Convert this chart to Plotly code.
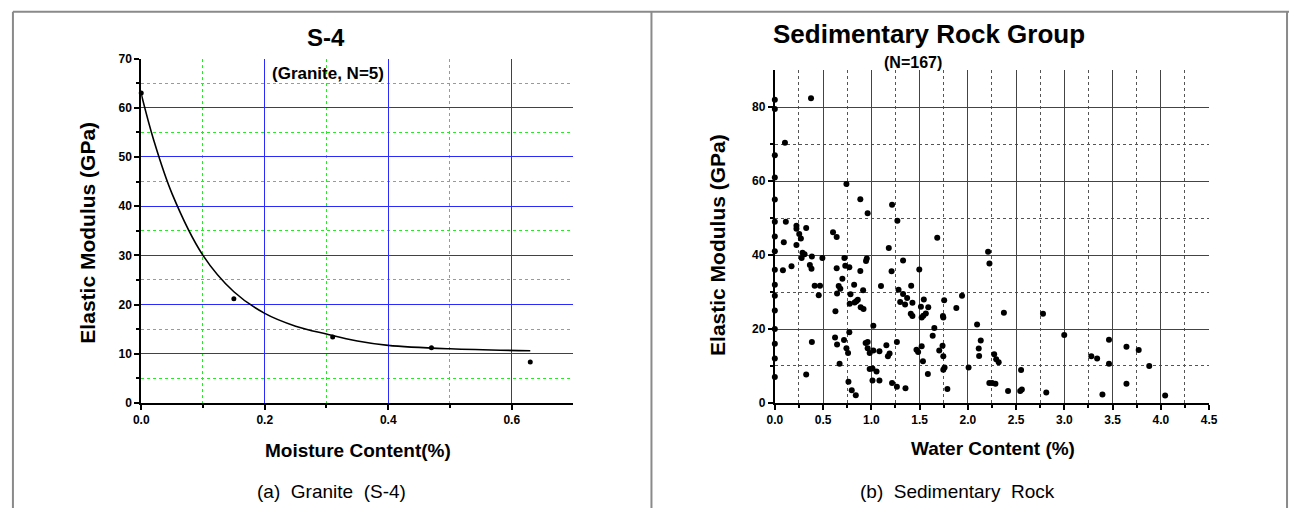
import plotly.graph_objects as go

W, H = 1298, 515

# ---------------- Data: (a) Granite S-4 ----------------
granite_x = [0.0, 0.15, 0.31, 0.47, 0.63]
granite_y = [63.0, 21.2, 13.4, 11.2, 8.3]

# fitted curve, points
curve_x = [0.0, 0.02, 0.05, 0.1, 0.15, 0.2, 0.25, 0.3, 0.35, 0.4, 0.5, 0.63]
curve_y = [62.8, 53.5, 42.5, 30.0, 22.6, 18.2, 15.6, 14.0, 12.6, 11.7, 11.0, 10.6]

# ---------------- Data: (b) Sedimentary rock ----------------
sed_x = [
    0.375, 0.105, 0.742, 0.886, 1.215, 0.962, 1.27, 0.114, 0.224, 0.224,
    0.325, 0.253, 0.27, 0.603, 0.641, 1.683, 0.093, 0.224, 1.181, 2.21,
    2.224, 0.287, 0.308, 0.278, 0.384, 0.493, 0.721, 0.953, 0.945, 1.329,
    0.363, 0.173, 0.73, 0.772, 0.641, 0.38, 0.084, 0.886, 1.21, 1.497,
    0.70, 0.413, 0.468, 0.822, 1.10, 1.413, 0.662, 0.679, 0.915, 1.282,
    0.645, 0.784, 1.329, 0.455, 1.94, 1.371, 1.544, 0.86, 0.844, 1.755,
    0.827, 1.299, 1.426, 0.776, 1.35, 1.514, 1.59, 0.89, 1.881, 0.919,
    0.628, 2.374, 2.779, 1.409, 1.565, 1.426, 1.539, 1.742, 1.746, 1.522,
    1.021, 1.653, 2.096, 1.636, 2.999, 0.772, 0.624, 0.717, 0.384, 0.962,
    0.941, 1.265, 2.134, 3.463, 0.645, 1.156, 1.522, 1.738, 3.644, 0.742,
    0.962, 1.468, 2.113, 3.771, 0.759, 0.983, 1.084, 1.021, 1.485, 1.704,
    1.189, 1.172, 1.746, 2.117, 2.273, 2.294, 2.32, 3.28, 3.34, 1.535,
    0.671, 3.463, 3.88, 1.759, 1.746, 2.008, 0.983, 1.012, 2.552, 1.054,
    0.325, 1.586, 1.012, 1.084, 0.763, 1.215, 2.223, 2.252, 2.286, 3.644,
    1.265, 1.354, 1.788, 0.797, 2.417, 2.543, 2.56, 2.813, 0.839, 3.395,
    4.045,
    0.0, 0.0, 0.0, 0.0, 0.0, 0.0, 0.0, 0.0, 0.0, 0.0, 0.0, 0.0, 0.0, 0.0,
    0.0, 0.0,
]
sed_y = [
    82.4, 70.4, 59.2, 55.1, 53.6, 51.3, 49.3, 49.0, 47.9, 47.1,
    47.3, 45.7, 44.5, 46.2, 44.9, 44.7, 43.5, 42.7, 41.9, 40.9,
    37.7, 40.6, 40.2, 39.2, 39.6, 39.2, 39.2, 39.1, 38.4, 38.5,
    37.3, 37.0, 37.1, 36.7, 36.4, 36.3, 35.9, 35.7, 35.6, 36.1,
    33.6, 31.7, 31.7, 32.0, 31.6, 31.7, 31.6, 30.9, 30.5, 30.6,
    29.6, 29.4, 29.5, 29.1, 29.0, 28.4, 28.0, 27.9, 27.5, 27.8,
    27.2, 27.3, 27.1, 26.8, 26.6, 26.0, 25.9, 25.9, 25.7, 25.4,
    24.8, 24.4, 24.1, 24.1, 24.2, 23.5, 23.6, 23.5, 23.1, 23.1,
    20.9, 20.3, 21.2, 18.2, 18.4, 19.1, 17.7, 17.0, 16.5, 16.5,
    16.2, 16.5, 16.9, 17.1, 15.8, 15.6, 15.3, 15.5, 15.2, 14.8,
    14.8, 14.4, 14.7, 14.3, 13.5, 13.5, 14.0, 14.2, 13.8, 14.2,
    13.4, 12.6, 12.6, 12.7, 13.2, 11.8, 11.0, 12.6, 12.0, 11.3,
    10.6, 10.6, 10.0, 9.6, 9.0, 9.6, 9.2, 9.3, 8.9, 8.5,
    7.7, 7.8, 6.1, 6.1, 5.7, 5.4, 5.4, 5.4, 5.2, 5.2,
    4.4, 4.0, 3.8, 3.4, 3.2, 3.2, 3.6, 2.8, 2.1, 2.3,
    2.0,
    82.0, 79.5, 67.0, 61.0, 55.0, 49.0, 45.0, 41.0, 36.0, 32.0, 29.0, 25.0,
    20.0, 16.0, 12.0, 7.0,
]

# tick labels
left_xticks = [0.0, 0.2, 0.4, 0.6]
left_xtext = ["0.0", "0.2", "0.4", "0.6"]
left_yticks = [0, 10, 20, 30, 40, 50, 60, 70]
right_xticks = [0.0, 0.5, 1.0, 1.5, 2.0, 2.5, 3.0, 3.5, 4.0, 4.5]
right_xtext = ["0.0", "0.5", "1.0", "1.5", "2.0", "2.5", "3.0", "3.5", "4.0", "4.5"]
right_yticks = [0, 20, 40, 60, 80]


def px(x):
    return x / W


def py(y):
    return 1 - y / H


TICKFONT = dict(family="Liberation Sans Narrow, Liberation Sans, Arial", size=12, color="black", weight="bold")
BOLD = "Liberation Sans, Arial"

fig = go.Figure()

fig.add_trace(go.Scatter(
    x=curve_x, y=curve_y, mode="lines", line=dict(color="black", width=1.6, shape="spline", smoothing=1.0),
    xaxis="x", yaxis="y", showlegend=False, hoverinfo="skip"))
fig.add_trace(go.Scatter(
    x=granite_x, y=granite_y, mode="markers", marker=dict(color="black", size=5),
    xaxis="x", yaxis="y", showlegend=False, cliponaxis=False))
fig.add_trace(go.Scatter(
    x=sed_x, y=sed_y, mode="markers", marker=dict(color="black", size=6),
    xaxis="x2", yaxis="y2", showlegend=False, cliponaxis=False))

axis_common = dict(showline=True, linecolor="black", linewidth=2, ticks="outside",
                   ticklen=5, tickwidth=1.5, tickcolor="black", zeroline=False,
                   tickfont=TICKFONT, mirror=False)

fig.update_layout(
    width=W, height=H,
    margin=dict(l=0, r=0, t=0, b=0),
    paper_bgcolor="white", plot_bgcolor="white",
    xaxis=dict(domain=[px(135), px(573)], range=[0, 0.7], tickvals=left_xticks, ticktext=left_xtext,
               anchor="y", showgrid=True, gridcolor="#2a2aff", gridwidth=1,
               minor=dict(tickvals=[0.1, 0.3, 0.5], ticks="outside", ticklen=3, tickcolor="black",
                          showgrid=True, gridcolor="#22ee22", griddash="dot", gridwidth=1),
               **axis_common),
    yaxis=dict(domain=[py(407), py(53)], range=[0, 70], tickvals=left_yticks,
               anchor="x", showgrid=True, gridcolor="#2a2aff", gridwidth=1,
               minor=dict(tickvals=[5, 15, 25, 35, 45, 55, 65], ticks="outside", ticklen=3, tickcolor="black",
                          showgrid=True, gridcolor="#22ee22", griddash="dot", gridwidth=1),
               **axis_common),
    xaxis2=dict(domain=[px(777), px(1217)], range=[0, 4.5], tickvals=right_xticks, ticktext=right_xtext,
                anchor="y2", showgrid=True, gridcolor="#444444", gridwidth=1,
                minor=dict(tickvals=[0.25, 0.75, 1.25, 1.75, 2.25, 2.75, 3.25, 3.75, 4.25],
                           ticks="outside", ticklen=3, tickcolor="black",
                           showgrid=True, gridcolor="#555555", griddash="dot", gridwidth=1),
                **axis_common),
    yaxis2=dict(domain=[py(407), py(65)], range=[0, 90], tickvals=right_yticks,
                anchor="x2", showgrid=True, gridcolor="#444444", gridwidth=1,
                minor=dict(tickvals=[10, 30, 50, 70], ticks="outside", ticklen=3, tickcolor="black",
                           showgrid=True, gridcolor="#555555", griddash="dot", gridwidth=1),
                **axis_common),
)

ann = []


def add_text(x, y, text, size, family=BOLD, angle=0, bold=True):
    t = f"<b>{text}</b>" if bold else text
    ann.append(dict(x=px(x), y=py(y), xref="paper", yref="paper", text=t, showarrow=False,
                    xanchor="center", yanchor="middle", textangle=angle,
                    font=dict(family=family, size=size, color="black")))


# left panel texts
add_text(322, 31, "S-4", 24)
add_text(324, 68, "(Granite, N=5)", 17)
add_text(81, 232, "Elastic Modulus (GPa)", 21, angle=-90)
add_text(355, 456, "Moisture Content(%)", 19, family="Liberation Sans Narrow, Liberation Sans")
add_text(328, 498, "(a)  Granite  (S-4)", 19, family="Liberation Sans Narrow, Liberation Sans", bold=False)

# right panel texts
add_text(933, 28, "Sedimentary Rock Group", 26)
add_text(917, 57, "(N=167)", 16)
add_text(719, 245, "Elastic Modulus (GPa)", 21, angle=-90)
add_text(998, 454, "Water Content (%)", 19, family="Liberation Sans Narrow, Liberation Sans")
add_text(962, 498, "(b)  Sedimentary  Rock", 19, family="Liberation Sans Narrow, Liberation Sans", bold=False)

fig.update_layout(annotations=ann)

# frame lines
frame = dict(color="#8a8a8a", width=2)
shapes = [
    dict(type="line", xref="paper", yref="paper", x0=px(5), x1=1, y0=py(5), y1=py(5), line=frame),
    dict(type="line", xref="paper", yref="paper", x0=px(5), x1=px(5), y0=py(5), y1=0, line=frame),
    dict(type="line", xref="paper", yref="paper", x0=px(652), x1=px(652), y0=py(5), y1=0, line=frame),
    dict(type="line", xref="paper", yref="paper", x0=px(1296), x1=px(1296), y0=py(5), y1=0, line=frame),
]
fig.update_layout(shapes=shapes)

fig.write_html("out.html", config={"displayModeBar": False},
               post_script="document.body.style.margin='0';document.body.style.overflow='hidden';")
